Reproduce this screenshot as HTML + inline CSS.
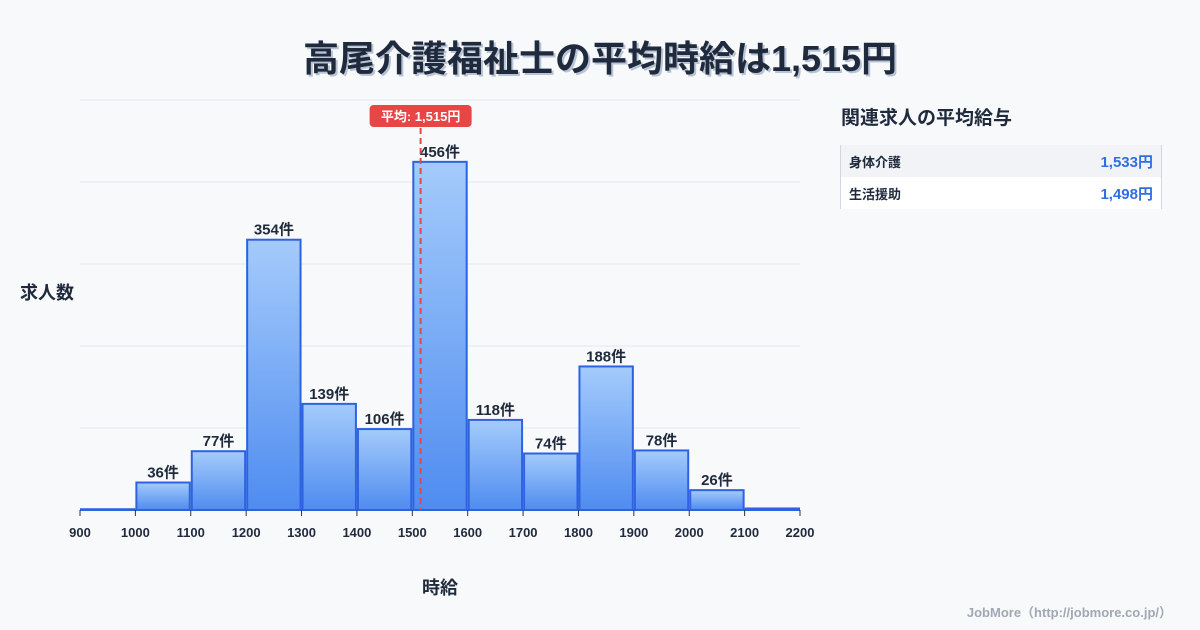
<!DOCTYPE html>
<html><head><meta charset="utf-8">
<style>
body{margin:0;width:1200px;height:630px;background:#f8f9fb;font-family:"Liberation Sans","Noto Sans CJK JP",sans-serif;overflow:hidden;position:relative}
.title{position:absolute;top:30px;left:0;width:1200px;text-align:center;font-size:36px;font-weight:bold;color:#1f2a3c;text-shadow:2px 2px 0 #b8c4d6}
.panel-title{position:absolute;left:841px;top:103px;font-size:19px;font-weight:bold;color:#1f2a3c}
.panel{position:absolute;left:840px;top:145px;width:320px;border-left:1px solid #cfd6df;border-right:1px solid #cfd6df}
.row{height:32px;display:flex;justify-content:space-between;align-items:center;padding:0 8px;font-size:13px;font-weight:bold;color:#1f2a3c}
.row .v{color:#2f6fe4;font-size:15px}
.foot{position:absolute;right:28px;top:602px;font-size:13px;font-weight:bold;color:#a0a8b3}
</style></head><body>
<div class="title">高尾介護福祉士の平均時給は1,515円</div>
<div class="panel-title">関連求人の平均給与</div>
<div class="panel">
 <div class="row" style="background:#f1f3f6"><span>身体介護</span><span class="v">1,533円</span></div>
 <div class="row" style="background:#fff"><span>生活援助</span><span class="v">1,498円</span></div>
</div>
<div class="foot">JobMore（http://jobmore.co.jp/）</div>
<svg id="chart" width="1200" height="630" style="position:absolute;left:0;top:0">
<defs><linearGradient id="g" x1="0" y1="0" x2="0" y2="1"><stop offset="0" stop-color="#a4cbfb"/><stop offset="1" stop-color="#4f8cf0"/></linearGradient></defs>
</svg>
<script>
const binStarts=[900,1000,1100,1200,1300,1400,1500,1600,1700,1800,1900,2000,2100];
const counts=[1,36,77,354,139,106,456,118,74,188,78,26,2];
const xTicks=[900,1000,1100,1200,1300,1400,1500,1600,1700,1800,1900,2000,2100,2200];
const avgWage=1515;
const svg=document.getElementById('chart');
const NS='http://www.w3.org/2000/svg';
const x0=80,x1=800,yBase=510,yTop=100,xMin=900,xMax=2200,yMax=537;
const X=v=>x0+(v-xMin)/(xMax-xMin)*(x1-x0);
const Y=v=>yBase-v/yMax*(yBase-yTop);
function mk(t,a){const e=document.createElementNS(NS,t);for(const k in a)e.setAttribute(k,a[k]);svg.appendChild(e);return e;}
for(let i=0;i<5;i++){const y=yTop+i*(yBase-yTop)/5;
 const l=mk('line',{x1:x0,x2:x1,y1:y,y2:y,stroke:'#e3e7ec','stroke-width':1});
 
 }
binStarts.forEach((b,i)=>{
 const xa=X(b)+1,xb=X(b+100)-1,y=Y(counts[i]);
 const r=mk('rect',{x:xa,y:y,width:xb-xa,height:yBase-y,fill:'url(#g)',stroke:'#2d62e0','stroke-width':2});
 
 
 if(counts[i]>=10){const t=mk('text',{x:(xa+xb)/2,y:y-5,'text-anchor':'middle','font-size':15,'font-weight':'bold',fill:'#1f2a3c'});
 t.textContent=counts[i]+'件';
 
 }
});
const ax=mk('line',{x1:x0,x2:x1,y1:yBase,y2:yBase,stroke:'#2d62e0','stroke-width':1});


xTicks.forEach(v=>{
 const tk=mk('line',{x1:X(v),x2:X(v),y1:yBase,y2:yBase+6,stroke:'#333','stroke-width':1});
 
 
 const t=mk('text',{x:X(v),y:537,'text-anchor':'middle','font-size':13,'font-weight':'bold',fill:'#1f2a3c'});
 t.textContent=v;
 
 
});
const ax2=X(avgWage);
const al=mk('line',{x1:ax2,x2:ax2,y1:128,y2:yBase,stroke:'#e04a4a','stroke-width':2,'stroke-dasharray':'6,4'});


const ab=mk('rect',{x:ax2-51,y:105,width:102,height:22,rx:4,fill:'#e84545'});


const at=mk('text',{x:ax2,y:121,'text-anchor':'middle','font-size':13,'font-weight':'bold',fill:'#fff'});
at.textContent='平均: 1,515円';


const yt=mk('text',{x:20,y:299,'font-size':18,'font-weight':'bold',fill:'#1f2a3c'});
yt.textContent='求人数';


const xt=mk('text',{x:440,y:594,'text-anchor':'middle','font-size':18,'font-weight':'bold',fill:'#1f2a3c'});
xt.textContent='時給';


</script>
</body></html>
